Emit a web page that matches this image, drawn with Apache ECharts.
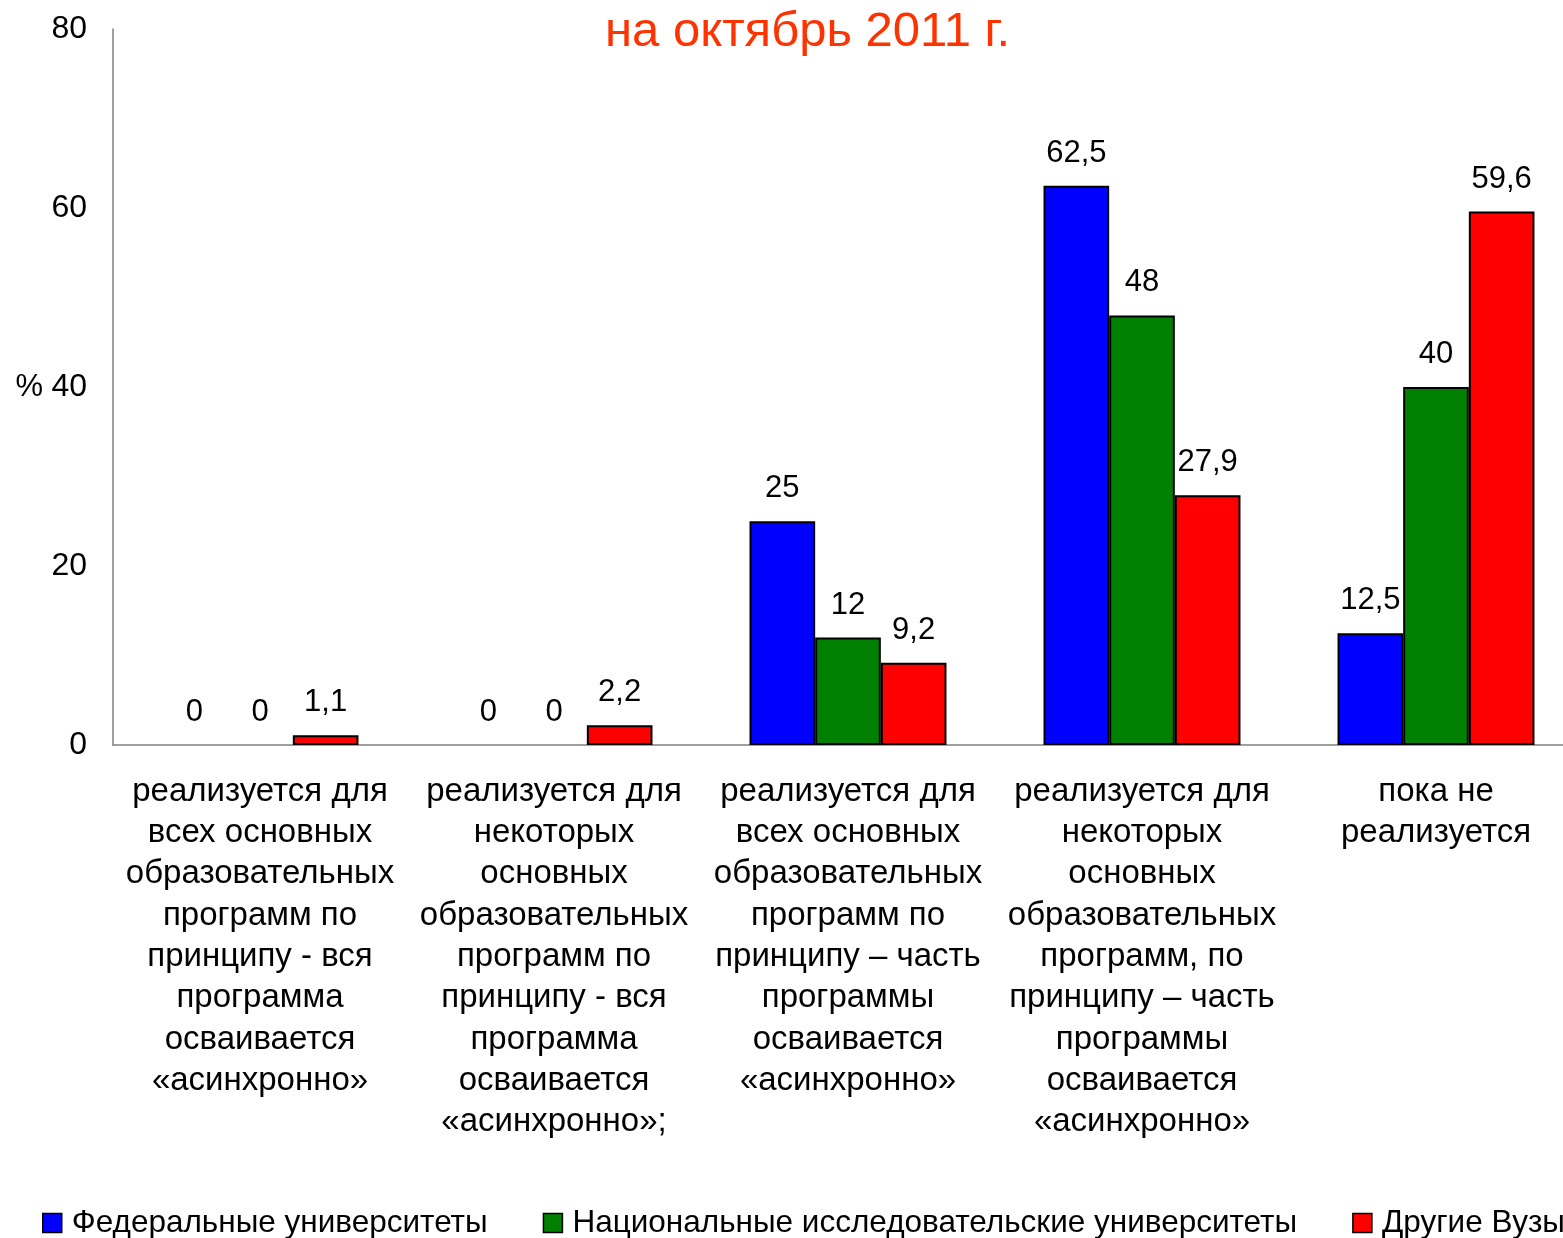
<!DOCTYPE html>
<html>
<head>
<meta charset="utf-8">
<script src="https://cdn.jsdelivr.net/npm/echarts@6/dist/echarts.min.js"></script>
<style>
  html, body { margin: 0; padding: 0; background: #fff; }
  #chart { width: 1563px; height: 1238px; }
</style>
</head>
<body>
<div id="chart"></div>
<script>
// подписи категорий (с переносами строк как на исходном рисунке)
const categories = [
  "реализуется для\nвсех основных\nобразовательных\nпрограмм по\nпринципу - вся\nпрограмма\nосваивается\n«асинхронно»",
  "реализуется для\nнекоторых\nосновных\nобразовательных\nпрограмм по\nпринципу - вся\nпрограмма\nосваивается\n«асинхронно»;",
  "реализуется для\nвсех основных\nобразовательных\nпрограмм по\nпринципу – часть\nпрограммы\nосваивается\n«асинхронно»",
  "реализуется для\nнекоторых\nосновных\nобразовательных\nпрограмм, по\nпринципу – часть\nпрограммы\nосваивается\n«асинхронно»",
  "пока не\nреализуется"
];
const seriesNames = ["Федеральные университеты", "Национальные исследовательские университеты", "Другие Вузы"];
const federal = [0, 0, 25, 62.5, 12.5];
const national = [0, 0, 12, 48, 40];
const others = [1.1, 2.2, 9.2, 27.9, 59.6];
const yTicks = [0, 20, 40, 60, 80];

const colors = ["#0000FF", "#008000", "#FF0000"];
const font = "'Liberation Sans', Arial, sans-serif";

function makeSeries(name, data, i) {
  return {
    name: name,
    type: "bar",
    // у нулевых столбцов рамку не рисуем
    data: data.map(v => ({
      value: v,
      itemStyle: v === 0 ? { borderWidth: 0, opacity: 0 } : undefined
    })),
    barGap: "0%",
    barCategoryGap: "33%",
    itemStyle: {
      color: colors[i],
      borderColor: "#000",
      borderWidth: 2
    },
    label: {
      show: true,
      position: "top",
      distance: 17,
      color: "#000",
      fontSize: 31,
      fontFamily: font,
      opacity: 1,
      formatter: function(p) {
        return String(p.value).replace(".", ",");
      }
    }
  };
}

const chart = echarts.init(document.getElementById("chart"));
chart.setOption({
  animation: false,
  title: {
    text: "на октябрь 2011 г.",
    left: 600,
    top: 3,
    textStyle: { color: "#FF3300", fontSize: 49, fontWeight: "normal", fontFamily: font }
  },
  legend: {
    left: 37,
    top: 1202,
    width: 1800,
    itemWidth: 19,
    itemHeight: 19,
    itemGap: 55,
    icon: "rect",
    itemStyle: { borderColor: "#000", borderWidth: 1.5 },
    textStyle: { fontSize: 31.5, color: "#000", fontFamily: font, padding: [0, 0, 0, 5] },
    data: seriesNames
  },
  grid: { left: 113, width: 1470, top: 29, bottom: 493, containLabel: false, outerBoundsMode: "none" },
  xAxis: {
    type: "category",
    data: categories,
    axisLine: { lineStyle: { color: "#808080", width: 1.5 } },
    axisTick: { show: false },
    axisLabel: {
      interval: 0,
      margin: 26,
      fontSize: 33,
      lineHeight: 41.3,
      color: "#000",
      fontFamily: font,
      align: "center"
    }
  },
  yAxis: {
    type: "value",
    min: yTicks[0],
    max: yTicks[yTicks.length - 1],
    interval: 20,
    name: "%",
    nameLocation: "middle",
    nameRotate: 0,
    nameGap: 70,
    nameTextStyle: { fontSize: 31, color: "#000", fontFamily: font },
    axisLine: { show: true, lineStyle: { color: "#808080", width: 1.5 } },
    axisTick: { show: false },
    splitLine: { show: false },
    axisLabel: { margin: 26, fontSize: 32, color: "#000", fontFamily: font }
  },
  series: [
    makeSeries(seriesNames[0], federal, 0),
    makeSeries(seriesNames[1], national, 1),
    makeSeries(seriesNames[2], others, 2)
  ]
});
</script>
</body>
</html>
